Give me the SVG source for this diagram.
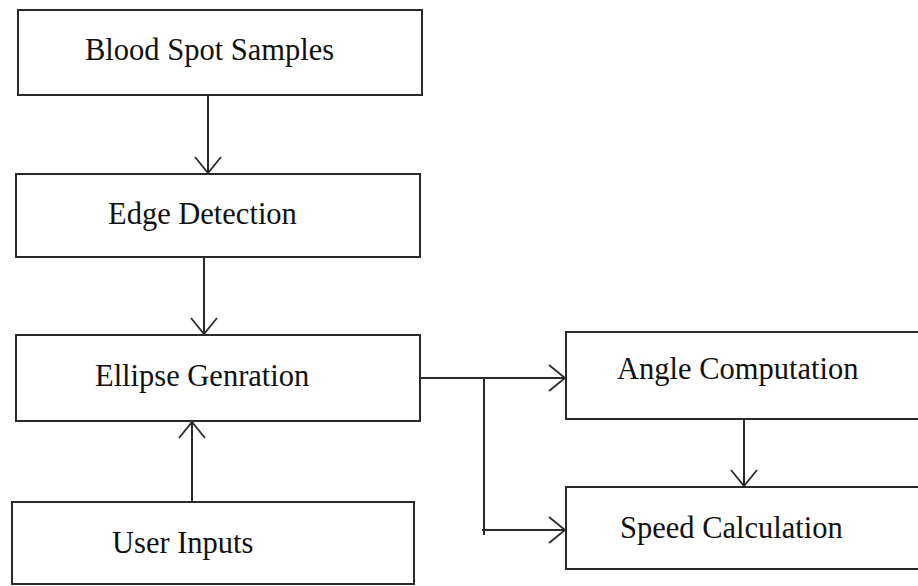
<svg xmlns="http://www.w3.org/2000/svg" width="918" height="586" viewBox="0 0 918 586">
<style>
.box{fill:#fff;stroke:#2a2a2a;stroke-width:2}
.lbl{font-family:"Liberation Serif","Times New Roman",serif;font-size:30.5px;fill:#111}
.con{fill:none;stroke:#2a2a2a;stroke-width:2}
</style>
<defs>
<marker id="arr" markerUnits="userSpaceOnUse" markerWidth="30" markerHeight="30" viewBox="-20 -15 24 30" refX="0" refY="0" orient="auto">
<path d="M-16,-13 L0,0 L-16,13" fill="none" stroke="#2a2a2a" stroke-width="1.8"/>
</marker>
</defs>
<rect width="918" height="586" fill="#fff"/>
<g id="blood-spot-samples"><rect class="box" x="18" y="10" width="404" height="85"/><text class="lbl" x="85" y="60">Blood Spot Samples</text></g>
<g id="edge-detection"><rect class="box" x="16" y="174" width="404" height="83"/><text class="lbl" x="108" y="224">Edge Detection</text></g>
<g id="ellipse-genration"><rect class="box" x="16" y="335" width="404" height="86"/><text class="lbl" x="95" y="386">Ellipse Genration</text></g>
<g id="user-inputs"><rect class="box" x="12" y="502" width="402" height="82"/><text class="lbl" x="112" y="553">User Inputs</text></g>
<g id="angle-computation"><rect class="box" x="566" y="332" width="360" height="87"/><text class="lbl" x="617" y="379">Angle Computation</text></g>
<g id="speed-calculation"><rect class="box" x="566" y="487" width="360" height="82"/><text class="lbl" x="620" y="538">Speed Calculation</text></g>
<g id="connectors">
<path class="con" d="M208,95 L208,173" marker-end="url(#arr)"/>
<path class="con" d="M204,257 L204,334" marker-end="url(#arr)"/>
<path class="con" d="M192,502 L192,422" marker-end="url(#arr)"/>
<path class="con" d="M420,378 L565,378" marker-end="url(#arr)"/>
<path class="con" d="M484,378 L484,535"/>
<path class="con" d="M482,530 L565,530" marker-end="url(#arr)"/>
<path class="con" d="M744,419 L744,486" marker-end="url(#arr)"/>
</g>
</svg>
